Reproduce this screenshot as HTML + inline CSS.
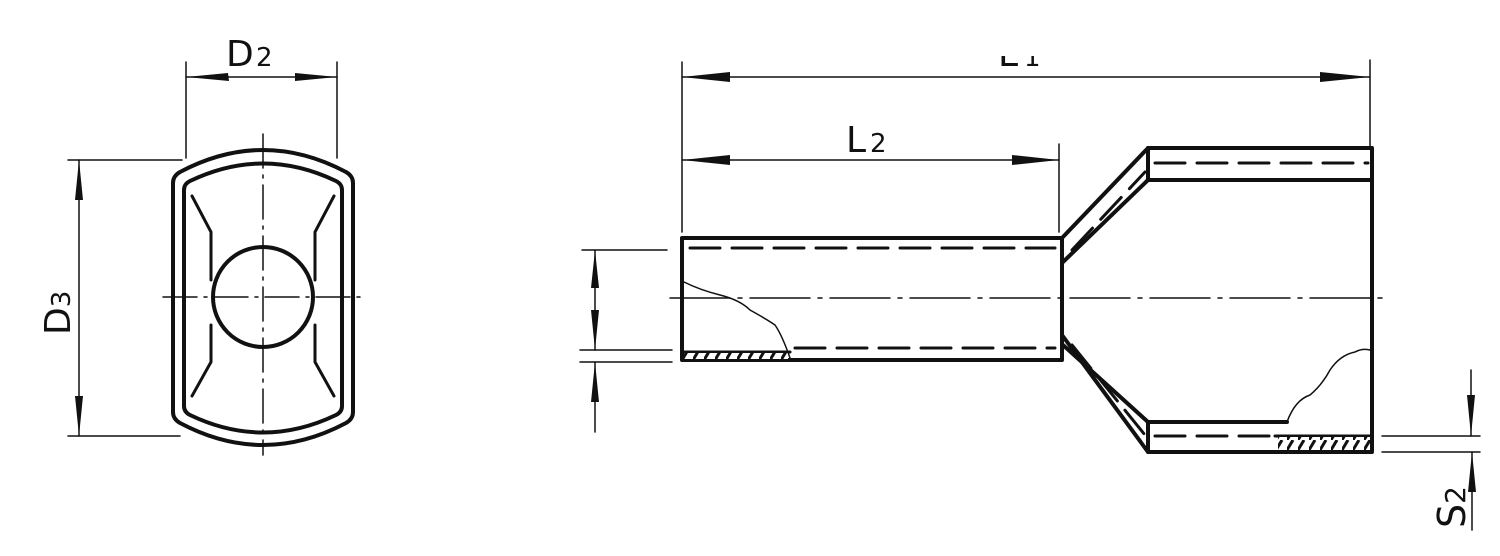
<!DOCTYPE html>
<html><head><meta charset="utf-8"><style>
html,body{margin:0;padding:0;background:#fff}
svg{display:block}
text{font-family:"DejaVu Sans","Liberation Sans",sans-serif;fill:#111}
</style></head><body>
<svg width="1500" height="556" viewBox="0 0 1500 556" xmlns="http://www.w3.org/2000/svg">
<defs>
<pattern id="h" width="11" height="10" patternUnits="userSpaceOnUse"><rect width="11" height="10" fill="#fff"/><path d="M0 10 L6 0" stroke="#111" stroke-width="3"/></pattern>
<clipPath id="cl"><rect x="980" y="56" width="80" height="20"/></clipPath>
</defs>
<g stroke="#111" fill="none" stroke-linecap="round">
<g stroke-width="1.5">
<line x1="186" y1="62" x2="186" y2="158"/>
<line x1="337" y1="62" x2="337" y2="158"/>
<line x1="186" y1="77" x2="337" y2="77"/>
<line x1="68" y1="160" x2="182" y2="160"/>
<line x1="68" y1="436" x2="180" y2="436"/>
<line x1="79" y1="160" x2="79" y2="436"/>
</g>
<g fill="#111" stroke="none">
<polygon points="186,77 228,73 229,81"/>
<polygon points="337,77 295,73 295,81"/>
<polygon points="79,160 75,200 83,200"/>
<polygon points="79,436 75,396 83,396"/>
</g>
<path d="M173,183 Q173,176 180,172 Q263,128 346,172 Q353,176 353,183 L353,412 Q353,419 346,423 Q263,467 180,423 Q173,419 173,412 Z" stroke-width="4"/>
<path d="M184,190 Q184,184 190,181 Q263,146 336,181 Q342,184 342,190 L342,406 Q342,412 336,415 Q263,450 190,415 Q184,412 184,406 Z" stroke-width="4"/>
<circle cx="263" cy="297" r="50" stroke-width="4"/>
<g stroke-width="3">
<polyline points="192,196 211,232 211,280"/>
<polyline points="211,325 211,362 192,396"/>
<polyline points="334,196 315,232 315,280"/>
<polyline points="315,325 315,362 334,396"/>
</g>
<g stroke-width="1.5" stroke-dasharray="34,7,3,7">
<line x1="263" y1="134" x2="263" y2="455"/>
<line x1="163" y1="297" x2="365" y2="297"/>
</g>
<g stroke-width="1.5">
<line x1="682" y1="62" x2="682" y2="232"/>
<line x1="1370" y1="60" x2="1370" y2="146"/>
<line x1="682" y1="77" x2="1370" y2="77"/>
<line x1="1059" y1="144" x2="1059" y2="232"/>
<line x1="682" y1="160" x2="1059" y2="160"/>
<line x1="582" y1="250" x2="667" y2="250"/>
<line x1="580" y1="350" x2="672" y2="350"/>
<line x1="580" y1="362" x2="672" y2="362"/>
<line x1="595" y1="250" x2="595" y2="350"/>
<line x1="595" y1="362" x2="595" y2="432"/>
<line x1="1382" y1="436" x2="1480" y2="436"/>
<line x1="1382" y1="452" x2="1480" y2="452"/>
<line x1="1471" y1="370" x2="1471" y2="436"/>
<line x1="1472" y1="452" x2="1472" y2="530"/>
</g>
<g fill="#111" stroke="none">
<polygon points="682,77 730,72 730,82"/>
<polygon points="1370,77 1320,72 1320,82"/>
<polygon points="682,160 730,155 730,165"/>
<polygon points="1059,160 1012,155 1012,165"/>
<polygon points="595,250 591,288 599,288"/>
<polygon points="595,350 591,310 599,310"/>
<polygon points="595,362 591,402 599,402"/>
<polygon points="1471,436 1467,395 1475,395"/>
<polygon points="1472,452 1468,492 1476,492"/>
</g>
<g stroke-width="4" stroke-linejoin="round">
<rect x="682" y="238" width="380" height="122"/>
<line x1="682" y1="352" x2="790" y2="352" stroke-width="3"/>
<polyline points="1062,238 1148,148 1372,148 1372,452 1148,452 1062,335"/>
<polyline points="1063,262 1148,180 1372,180"/>
<polyline points="1063,345 1148,422 1287,422"/>
<line x1="1148" y1="148" x2="1148" y2="180"/>
<line x1="1148" y1="422" x2="1148" y2="452"/>
<line x1="1275" y1="436" x2="1372" y2="436" stroke-width="3"/>
</g>
<rect x="684" y="353" width="104" height="6" fill="url(#h)" stroke="none"/>
<rect x="1278" y="437" width="92" height="13" fill="url(#h)" stroke="none"/>
<g stroke-width="3" stroke-dasharray="30,12">
<line x1="690" y1="248" x2="1055" y2="248"/>
<line x1="795" y1="348" x2="1055" y2="348"/>
<line x1="1155" y1="163" x2="1368" y2="163"/>
<line x1="1155" y1="436" x2="1272" y2="436"/>
<line x1="1072" y1="250" x2="1145" y2="172"/>
<line x1="1072" y1="345" x2="1145" y2="435"/>
</g>
<g stroke-width="1.5">
<path d="M684,282 Q700,290 720,295 Q740,300 750,310 Q768,320 775,325 Q782,335 790,358"/>
<path d="M1287,422 Q1295,400 1310,395 Q1322,385 1330,370 Q1340,355 1355,352 Q1362,348 1370,350"/>
</g>
<line x1="670" y1="298" x2="1385" y2="298" stroke-width="1.5" stroke-dasharray="60,8,4,8"/>
</g>
<text x="226" y="66" font-size="36">D</text><text x="256" y="66" font-size="26">2</text>
<text x="846" y="152" font-size="36">L</text><text x="870" y="152" font-size="26">2</text>
<g clip-path="url(#cl)"><text x="998" y="66" font-size="36">L</text><text x="1024" y="66" font-size="26">1</text></g>
<text transform="translate(70,335) rotate(-90)" font-size="36">D<tspan font-size="26">3</tspan></text>
<text transform="translate(1465,528) rotate(-90)" font-size="38">S<tspan font-size="28">2</tspan></text>
</svg>
</body></html>
